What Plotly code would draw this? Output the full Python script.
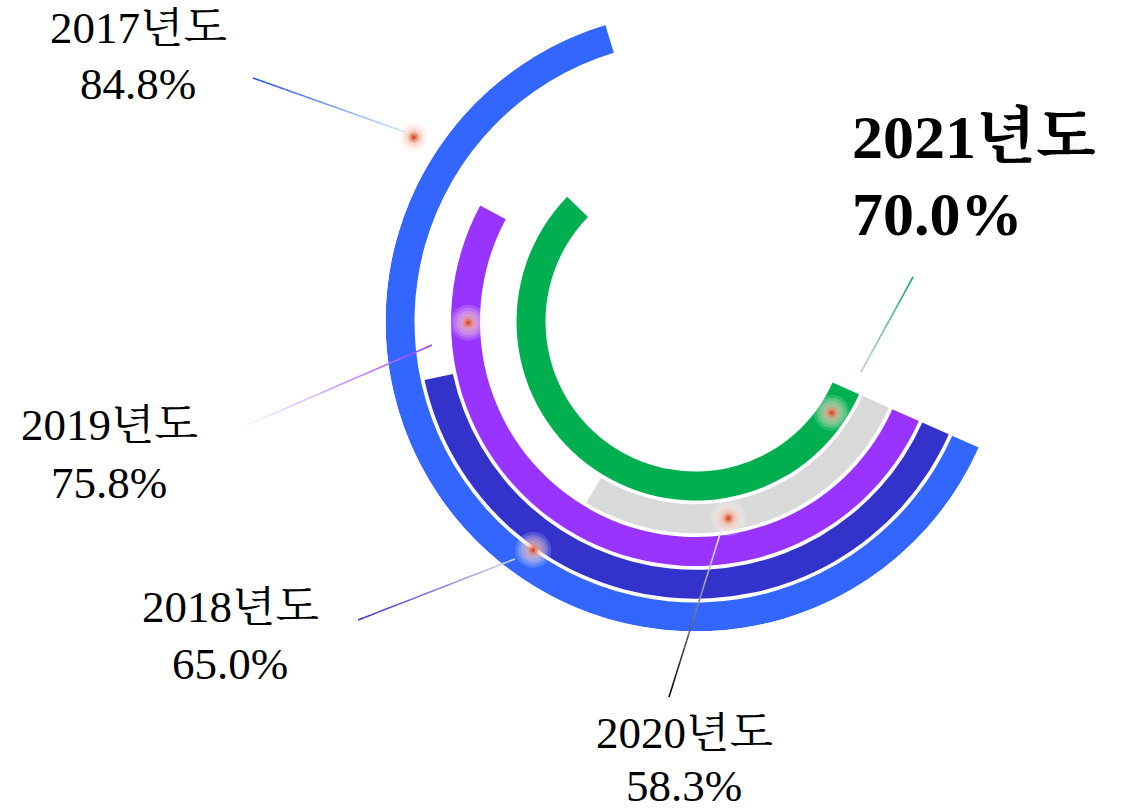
import math
import plotly.graph_objects as go

# data
years = ["2017", "2018", "2019", "2020", "2021"]
values = [84.8, 65.0, 75.8, 58.3, 70.0]
# drawn length of each ring, degrees clockwise from the common start line
arc_deg = [229.1, 143.8, 184.3, 97.1, 200.2]

colors = ["#3366FF", "#3333CC", "#9933FF", "#D9D9D9", "#00AF50"]

W, H = 1135, 808
CX, CY, R = 695.5, 321.5, 310   # polar centre / radius in pixels
RING_T, RING_STEP = 29, 32.75   # ring thickness and pitch (radial units == px)
ROT = -24                       # where the rings start (degrees, ccw from 3 o'clock)
FONT = "Liberation Serif, 'Noto Serif CJK KR', 'Noto Sans CJK KR', serif"


def px(x, y):
    return x / W, 1 - y / H


fig = go.Figure()

# rings, outermost (2017) first
bases = [R - RING_T - i * RING_STEP for i in range(len(years))]
fig.add_trace(go.Barpolar(
    r=[RING_T] * len(years),
    base=bases,
    theta=[a / 2 for a in arc_deg],
    width=arc_deg,
    marker=dict(color=colors, line=dict(width=0)),
    hoverinfo="skip",
    showlegend=False,
))

# glowing callout dots (angle along arc, radius)
dot_theta = [189.2, 101.4, 155.7, 56.5, 9.8]
dot_r = [336.6, 280.2, 227.2, 199.5, 163.9]
glow = [(36, "#ffffff", 0.16), (30, "#ffe6dc", 0.22), (24, "#fccdbd", 0.27),
        (18, "#f6b09a", 0.32), (12, "#ee8e70", 0.42), (8, "#e26a4c", 0.58),
        (4, "#cf4a2e", 0.85)]
inside = [k for k in range(len(dot_r)) if dot_r[k] <= R]
outside = [k for k in range(len(dot_r)) if dot_r[k] > R]
for size, col, op in glow:
    fig.add_trace(go.Scatterpolar(
        r=[dot_r[k] for k in inside], theta=[dot_theta[k] for k in inside],
        mode="markers",
        marker=dict(size=size, color=col, opacity=op, line=dict(width=0)),
        cliponaxis=False, hoverinfo="skip", showlegend=False,
    ))

shapes = []
# dots that sit beyond the radial range: same glow drawn as paper circles
for k in outside:
    ang = math.radians(ROT - dot_theta[k])
    x = CX + dot_r[k] * math.cos(ang)
    y = CY - dot_r[k] * math.sin(ang)
    for size, col, op in glow:
        a0 = px(x - size / 2, y + size / 2)
        a1 = px(x + size / 2, y - size / 2)
        shapes.append(dict(type="circle", xref="paper", yref="paper",
                           x0=a0[0], y0=a0[1], x1=a1[0], y1=a1[1],
                           fillcolor=col, opacity=op, line=dict(width=0)))


# gradient leader lines drawn as short shape segments (pixel coords)
def hex_rgb(h):
    h = h.lstrip("#")
    return [int(h[i:i + 2], 16) for i in (0, 2, 4)]


leaders = [
    ((253, 78), (405, 132), "#2050D8", "#CFEAF8"),
    ((358, 620), (515, 559), "#3333CC", "#D4D4E2"),
    ((240, 428), (432, 345), "#FFFFFF", "#9B3CFF"),
    ((669, 697), (722, 528), "#000000", "#F2F2F2"),
    ((913, 277), (861, 372), "#00B050", "#C4CAE8"),
]
N = 24
for (x0, y0), (x1, y1), c0, c1 in leaders:
    a, b = hex_rgb(c0), hex_rgb(c1)
    for k in range(N):
        t0, t1 = k / N, (k + 1) / N
        tm = (t0 + t1) / 2
        col = "rgb(%d,%d,%d)" % tuple(round(a[j] + (b[j] - a[j]) * tm) for j in range(3))
        p0 = px(x0 + (x1 - x0) * t0, y0 + (y1 - y0) * t0)
        p1 = px(x0 + (x1 - x0) * t1, y0 + (y1 - y0) * t1)
        shapes.append(dict(type="line", xref="paper", yref="paper",
                           x0=p0[0], y0=p0[1], x1=p1[0], y1=p1[1],
                           line=dict(color=col, width=1.6), layer="above"))

# labels: (year index, x centre, y line1, y line2)
label_pos = [(0, 138, 28, 84), (1, 230, 607, 664), (2, 109, 425, 483), (3, 684, 733, 786)]
annotations = []
for i, x, y1, y2 in label_pos:
    for txt, yy in [(f"{years[i]}년도", y1), (f"{values[i]:.1f}%", y2)]:
        ax, ay = px(x, yy)
        annotations.append(dict(x=ax, y=ay, xref="paper", yref="paper", text=txt,
                                showarrow=False, xanchor="center", yanchor="middle",
                                height=42,
                                font=dict(family=FONT, size=45, color="#000")))
for txt, yy in [(f"<b>{years[4]}년도</b>", 137), (f"<b>{values[4]:.1f}%</b>", 214)]:
    ax, ay = px(850, yy)
    annotations.append(dict(x=ax, y=ay, xref="paper", yref="paper", text=txt,
                            showarrow=False, xanchor="left", yanchor="middle",
                            font=dict(family=FONT, size=62, color="#000")))

d0 = px(CX - R, CY + R)
d1 = px(CX + R, CY - R)
fig.update_layout(
    width=W, height=H,
    margin=dict(l=0, r=0, t=0, b=0),
    paper_bgcolor="white",
    plot_bgcolor="white",
    showlegend=False,
    polar=dict(
        domain=dict(x=[d0[0], d1[0]], y=[d0[1], d1[1]]),
        bgcolor="rgba(0,0,0,0)",
        radialaxis=dict(range=[0, R], visible=False, showgrid=False),
        angularaxis=dict(rotation=ROT, direction="clockwise", visible=False, showgrid=False),
        barmode="overlay",
    ),
    shapes=shapes,
    annotations=annotations,
)

fig.write_html("out.html", config={"displayModeBar": False},
               post_script="document.body.style.margin='0';")
